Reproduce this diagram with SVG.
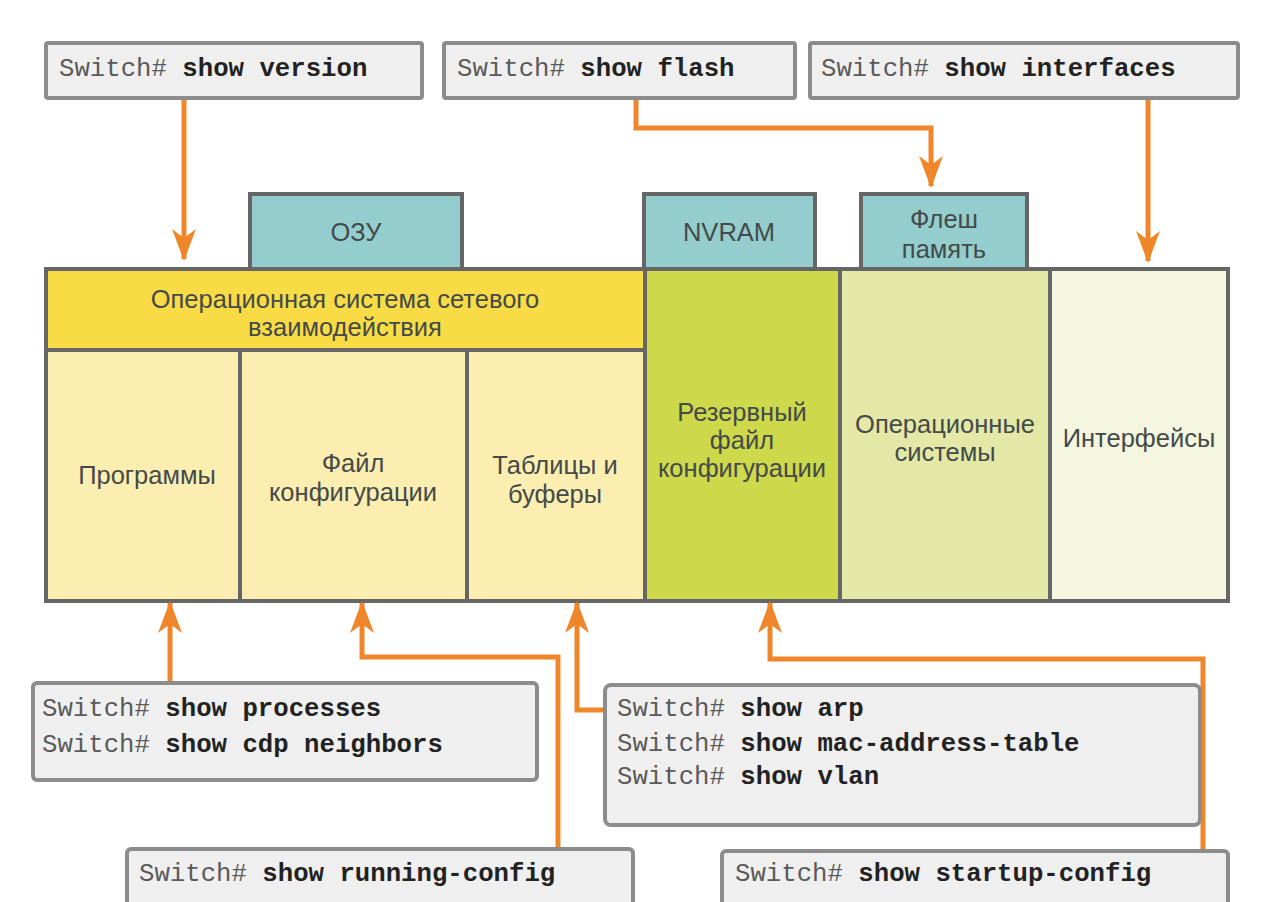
<svg xmlns="http://www.w3.org/2000/svg" width="1281" height="902" viewBox="0 0 1281 902">
  <style>
    .cmd { fill: #efefef; stroke: #8c8c8c; stroke-width: 4; }
    .mono { font-family: "Liberation Mono", "Courier New", monospace; font-size: 25.7px; fill: #5a5a5a; }
    .mono tspan.b { font-weight: bold; fill: #222; }
    .blk { stroke: #666; stroke-width: 4; }
    .lbl { font-family: "Liberation Sans", Arial, sans-serif; font-size: 25.5px; fill: #444a4a; text-anchor: middle; }
    .wire { fill: none; stroke: #f0862a; stroke-width: 5; stroke-linejoin: miter; }
  </style>
  <defs>
    <marker id="head" viewBox="0 0 32 24" refX="30" refY="12" markerWidth="32" markerHeight="24" markerUnits="userSpaceOnUse" orient="auto">
      <path d="M32,12 L0,0 L9,12 L0,24 Z" fill="#f0862a"/>
    </marker>
  </defs>
  <rect width="1281" height="902" fill="#ffffff"/>

  <!-- memory tabs -->
  <g id="tab-ram">
    <rect class="blk" x="250" y="194" width="212" height="75" fill="#94cdcd"/>
    <text class="lbl" x="356" y="241">ОЗУ</text>
  </g>
  <g id="tab-nvram">
    <rect class="blk" x="644" y="194" width="171" height="75" fill="#94cdcd"/>
    <text class="lbl" x="729" y="241">NVRAM</text>
  </g>
  <g id="tab-flash">
    <rect class="blk" x="861" y="194" width="166" height="75" fill="#94cdcd"/>
    <text class="lbl" x="944" y="228">Флеш</text>
    <text class="lbl" x="944" y="258">память</text>
  </g>

  <!-- main memory block -->
  <g id="ios">
    <rect class="blk" x="46" y="269" width="599" height="81" fill="#f9dc45"/>
    <text class="lbl" x="345" y="308">Операционная система сетевого</text>
    <text class="lbl" x="345" y="336">взаимодействия</text>
  </g>
  <g id="programs">
    <rect class="blk" x="46" y="350" width="194" height="251" fill="#fbeeb0"/>
    <text class="lbl" x="147" y="484">Программы</text>
  </g>
  <g id="running-config">
    <rect class="blk" x="240" y="350" width="227" height="251" fill="#fbeeb0"/>
    <text class="lbl" x="353" y="472">Файл</text>
    <text class="lbl" x="353" y="501">конфигурации</text>
  </g>
  <g id="tables">
    <rect class="blk" x="467" y="350" width="178" height="251" fill="#fbeeb0"/>
    <text class="lbl" x="555" y="474">Таблицы и</text>
    <text class="lbl" x="555" y="503">буферы</text>
  </g>
  <g id="startup-config">
    <rect class="blk" x="645" y="269" width="195" height="332" fill="#cdd84a"/>
    <text class="lbl" x="742" y="421">Резервный</text>
    <text class="lbl" x="742" y="449">файл</text>
    <text class="lbl" x="742" y="477">конфигурации</text>
  </g>
  <g id="os-images">
    <rect class="blk" x="840" y="269" width="210" height="332" fill="#e3e8a6"/>
    <text class="lbl" x="945" y="433">Операционные</text>
    <text class="lbl" x="945" y="461">системы</text>
  </g>
  <g id="interfaces">
    <rect class="blk" x="1050" y="269" width="178" height="332" fill="#f5f6df"/>
    <text class="lbl" x="1139" y="447">Интерфейсы</text>
  </g>

  <!-- connectors -->
  <g id="connectors">
    <path class="wire" d="M184,98 V259" marker-end="url(#head)"/>
    <path class="wire" d="M636,98 V128 H931 V186" marker-end="url(#head)"/>
    <path class="wire" d="M1148,98 V261" marker-end="url(#head)"/>
    <path class="wire" d="M170,682 V603" marker-end="url(#head)"/>
    <path class="wire" d="M558,850 V657 H362 V603" marker-end="url(#head)"/>
    <path class="wire" d="M605,710 H577 V603" marker-end="url(#head)"/>
    <path class="wire" d="M1203,850 V659 H770 V603" marker-end="url(#head)"/>
  </g>

  <!-- command boxes -->
  <g id="cmd-version">
    <rect class="cmd" x="46" y="43" width="376" height="55" rx="2"/>
    <text class="mono" x="59" y="76">Switch# <tspan class="b">show version</tspan></text>
  </g>
  <g id="cmd-flash">
    <rect class="cmd" x="444" y="43" width="351" height="55" rx="2"/>
    <text class="mono" x="457" y="76">Switch# <tspan class="b">show flash</tspan></text>
  </g>
  <g id="cmd-interfaces">
    <rect class="cmd" x="810" y="43" width="428" height="55" rx="2"/>
    <text class="mono" x="821" y="76">Switch# <tspan class="b">show interfaces</tspan></text>
  </g>
  <g id="cmd-processes">
    <rect class="cmd" x="33" y="683" width="504" height="97" rx="4"/>
    <text class="mono" x="42" y="716">Switch# <tspan class="b">show processes</tspan></text>
    <text class="mono" x="42" y="752">Switch# <tspan class="b">show cdp neighbors</tspan></text>
  </g>
  <g id="cmd-tables">
    <rect class="cmd" x="605" y="685" width="595" height="140" rx="6"/>
    <text class="mono" x="617" y="716">Switch# <tspan class="b">show arp</tspan></text>
    <text class="mono" x="617" y="751">Switch# <tspan class="b">show mac-address-table</tspan></text>
    <text class="mono" x="617" y="784">Switch# <tspan class="b">show vlan</tspan></text>
  </g>
  <g id="cmd-running">
    <rect class="cmd" x="127" y="849" width="506" height="70" rx="4"/>
    <text class="mono" x="139" y="881">Switch# <tspan class="b">show running-config</tspan></text>
  </g>
  <g id="cmd-startup">
    <rect class="cmd" x="722" y="851" width="506" height="70" rx="4"/>
    <text class="mono" x="735" y="881">Switch# <tspan class="b">show startup-config</tspan></text>
  </g>
</svg>
